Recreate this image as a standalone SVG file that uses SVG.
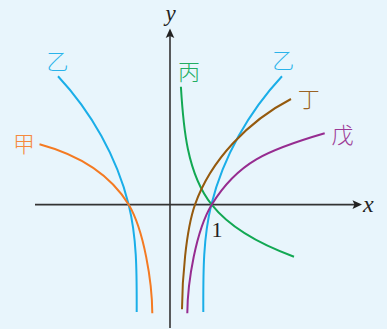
<svg xmlns="http://www.w3.org/2000/svg" width="387" height="329" viewBox="0 0 387 329">
<style>
.bg{fill:#e8f5fc}
.ax{stroke:#333;stroke-width:1.6;fill:none}
.ah{fill:#222}
.cv{fill:none;stroke-width:2;stroke-linecap:butt}
.lab{font-family:"Noto Sans CJK SC","Noto Sans CJK JP",sans-serif;font-size:22px;font-weight:300;text-anchor:middle;dominant-baseline:central}
.math{font-family:"Liberation Serif",serif;fill:#222}
</style>
<rect class="bg" x="0" y="0" width="387" height="329"/>
<g id="axes">
<line class="ax" x1="35" y1="204.6" x2="355" y2="204.6"/>
<path class="ah" d="M362,204.6 L352.5,200.3 L354.5,204.6 L352.5,208.9 Z"/>
<line class="ax" x1="170" y1="328" x2="170" y2="36"/>
<path class="ah" d="M170,28.5 L165.7,38 L170,36 L174.3,38 Z"/>
<text class="math" x="170.5" y="21" font-size="23" font-style="italic" text-anchor="middle">y</text>
<text class="math" x="363" y="212" font-size="24" font-style="italic">x</text>
<text class="math" x="217" y="237" font-size="22" text-anchor="middle">1</text>
</g>
<g id="connectors">
<path id="yi-right" class="cv" stroke="#1aaee8" d="M282,76.3 C248.7,112 223.1,157.2 211.3,204.7 C202.7,239.6 203.3,276 203.3,312"/>
<path id="yi-left" class="cv" stroke="#1aaee8" d="M58,76.3 C91.3,112 116.9,157.2 128.7,204.7 C137.3,239.6 136.7,276 136.7,312"/>
<path id="bing" class="cv" stroke="#12a853" d="M180.9,86.7 C183.3,126.7 186.9,173.5 211.7,204.7 C231.5,229.7 264,245.8 294,256.7"/>
<path id="ding" class="cv" stroke="#955a0e" d="M291,99 C248.6,120.9 210.7,160 195,204.7 C185.8,231 182.2,280 182,309.3"/>
<path id="wu" class="cv" stroke="#962c90" d="M324.7,133.3 C267.1,150.1 237.7,162.2 211.7,204.7 C196.1,230.2 187.5,282 187.3,313.3"/>
<path id="jia" class="cv" stroke="#f47a22" d="M39.5,144.2 C77.9,154.6 109,172.4 128.8,204.7 C143.9,230.2 152.2,282 152.3,313.3"/>
</g>
<g id="label-yi-left"><text class="lab" x="57.5" y="58.5" fill="#2ab3ea">乙</text></g>
<g id="label-jia"><text class="lab" x="24" y="141.5" fill="#f58a3e">甲</text></g>
<g id="label-bing"><text class="lab" x="189" y="70" fill="#22ad62">丙</text></g>
<g id="label-yi-right"><text class="lab" x="283.3" y="58.3" fill="#2ab3ea">乙</text></g>
<g id="label-ding"><text class="lab" x="308.8" y="96.7" fill="#9a6224">丁</text></g>
<g id="label-wu"><text class="lab" x="342.5" y="133.3" fill="#9c3a96">戊</text></g>
</svg>
